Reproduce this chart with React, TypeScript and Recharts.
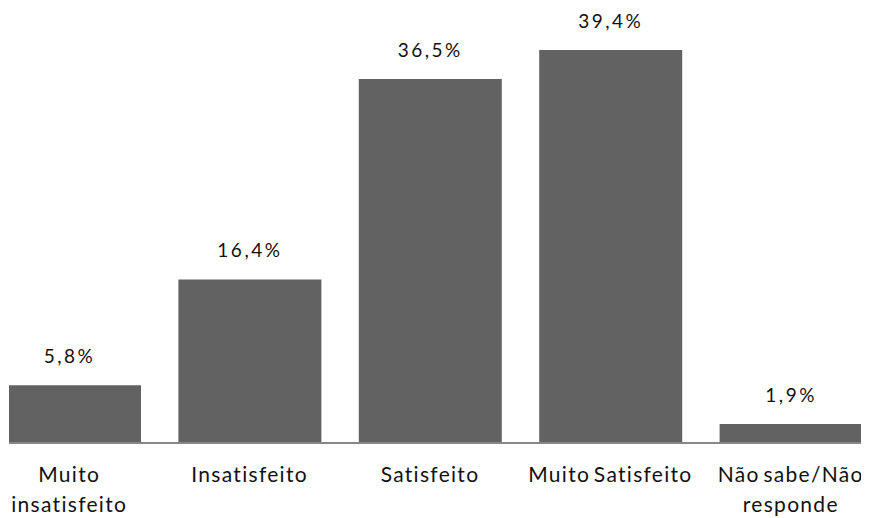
import React from "react";
import { BarChart, Bar, XAxis, YAxis, LabelList } from "recharts";

// Survey answers: share of respondents (%) per satisfaction level
const categories = [
  "Muito insatisfeito",
  "Insatisfeito",
  "Satisfeito",
  "Muito Satisfeito",
  "Não sabe/Não responde",
];
const shares = [5.8, 16.4, 36.5, 39.4, 1.9];
// How each category name is broken over lines under the axis
const tickLines: string[][] = [
  ["Muito", "insatisfeito"],
  ["Insatisfeito"],
  ["Satisfeito"],
  ["Muito Satisfeito"],
  ["Não sabe/Não", "responde"],
];

const data = categories.map((name, i) => ({ name, value: shares[i], lines: tickLines[i] }));

const FONT = "Lato, 'Open Sans', sans-serif";
const BAR_COLOR = "#626262";
const AXIS_COLOR = "#878787";

const formatPct = (v: number) => v.toFixed(1).replace(".", ",") + "%";

const CategoryTick = (props: any) => {
  const { x, y, index } = props;
  const lines = tickLines[index] || [];
  return (
    <text
      x={x}
      y={y + 39}
      textAnchor="middle"
      fill="#111"
      fontFamily={FONT}
      fontSize={21}
      letterSpacing={1.3}
      wordSpacing={-3}
    >
      {lines.map((line, i) => (
        <tspan key={i} x={x} dy={i === 0 ? 0 : 30}>
          {line}
        </tspan>
      ))}
    </text>
  );
};

const ValueLabel = (props: any) => {
  const { x, y, width, value } = props;
  return (
    <text
      x={x + width / 2}
      y={y - 22}
      textAnchor="middle"
      fill="#111"
      fontFamily={FONT}
      fontSize={19}
      letterSpacing={2.5}
    >
      {formatPct(value)}
    </text>
  );
};

export default function App() {
  return (
    <div
      style={{
        position: "relative",
        marginLeft: 1,
        width: 860,
        height: 510,
        overflow: "hidden",
        background: "#fff",
      }}
    >
      <div style={{ position: "absolute", left: -30, top: 0 }}>
        <BarChart
          width={902}
          height={510}
          data={data}
          margin={{ top: 36, right: 0, bottom: 0, left: 0 }}
          barSize={143}
        >
          <YAxis hide domain={[0, 40]} />
          <XAxis
            dataKey="name"
            height={75}
            interval={0}
            tickLine={false}
            tickSize={0}
            tickMargin={0}
            axisLine={{ stroke: AXIS_COLOR, strokeWidth: 2 }}
            tick={<CategoryTick />}
          />
          <Bar dataKey="value" fill={BAR_COLOR} isAnimationActive={false}>
            <LabelList dataKey="value" content={<ValueLabel />} />
          </Bar>
        </BarChart>
      </div>
    </div>
  );
}
